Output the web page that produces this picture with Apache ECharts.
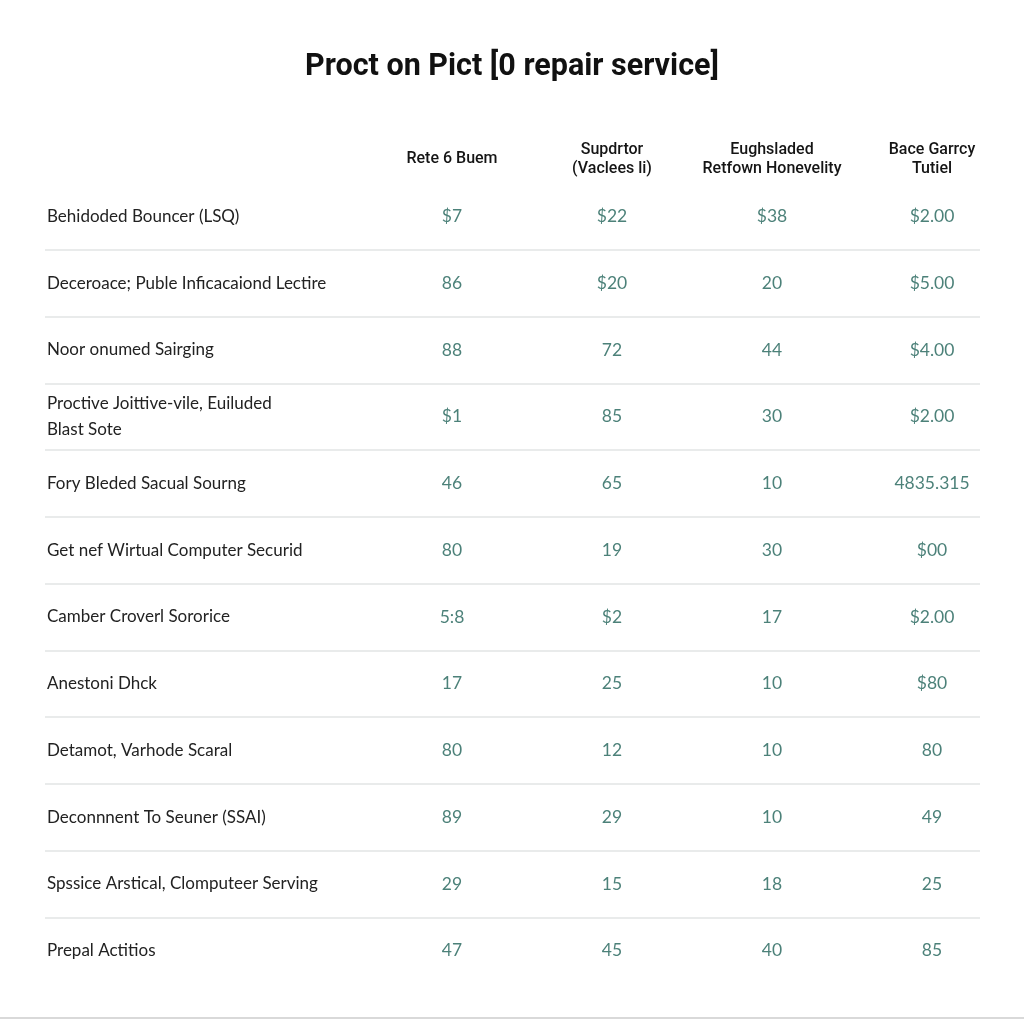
<!DOCTYPE html>
<html>
<head>
<meta charset="utf-8">
<script src="https://cdn.jsdelivr.net/npm/echarts@6/dist/echarts.min.js"></script>
<style>
html,body{margin:0;padding:0;background:#fff}
#c{width:1024px;height:1024px;background:#fff;box-shadow:inset 0 -5px 0 #fff, inset 0 -7px 0 #d9d9d9}
</style>
</head>
<body>
<div id="c"></div>
<script>
const titleText = "Proct on Pict [0 repair service]";
const rowNames = [
  "Behidoded Bouncer (LSQ)",
  "Deceroace; Puble Inficacaiond Lectire",
  "Noor onumed Sairging",
  "Proctive Joittive-vile, Euiluded\nBlast Sote",
  "Fory Bleded Sacual Sourng",
  "Get nef Wirtual Computer Securid",
  "Camber Croverl Sororice",
  "Anestoni Dhck",
  "Detamot, Varhode Scaral",
  "Deconnnent To Seuner (SSAI)",
  "Spssice Arstical, Clomputeer Serving",
  "Prepal Actitios"
];
const columnNames = [
  "Rete 6 Buem",
  "Supdrtor\n(Vaclees li)",
  "Eughsladed\nRetfown Honevelity",
  "Bace Garrcy\nTutiel"
];
const col1Values = ["$7","86","88","$1","46","80","5:8","17","80","89","29","47"];
const col2Values = ["$22","$20","72","85","65","19","$2","25","12","29","15","45"];
const col3Values = ["$38","20","44","30","10","30","17","10","10","10","18","40"];
const col4Values = ["$2.00","$5.00","$4.00","$2.00","4835.315","$00","$2.00","$80","80","49","25","85"];

const columnsData = [col1Values, col2Values, col3Values, col4Values];
const cellData = [];
columnsData.forEach((vals, j) => {
  vals.forEach((v, i) => cellData.push({ value: [j, i], text: v }));
});

const chart = echarts.init(document.getElementById('c'));
chart.setOption({
  backgroundColor: 'transparent',
  title: {
    text: titleText, left: 'center', top: 47,
    textStyle: { fontFamily: 'Roboto', fontWeight: 'bold', fontSize: 30.5, color: '#111' }
  },
  grid: [
    { left: 45, right: 44, top: 183, bottom: 40 },
    { left: 372, right: 12, top: 183, bottom: 40 }
  ],
  xAxis: [
    { type: 'value', gridIndex: 0, show: false, min: 0, max: 1 },
    {
      type: 'category', gridIndex: 1, data: columnNames, position: 'top',
      axisLine: { show: false }, axisTick: { show: false }, splitLine: { show: false },
      axisLabel: {
        interval: 0, margin: 24, verticalAlign: 'middle', lineHeight: 19,
        fontFamily: 'Roboto', fontWeight: 500, fontSize: 16, color: '#151515'
      }
    }
  ],
  yAxis: [
    {
      type: 'category', gridIndex: 0, data: rowNames, inverse: true,
      axisLine: { show: false }, axisTick: { show: false },
      axisLabel: {
        inside: true, align: 'left', margin: 2, interval: 0, lineHeight: 26,
        fontFamily: 'Lato', fontSize: 17, color: '#222222'
      },
      splitLine: { show: true, showMinLine: false, showMaxLine: false, lineStyle: { color: '#e2e4e4', width: 1.5 } }
    },
    {
      type: 'category', gridIndex: 1, data: rowNames, inverse: true, show: false
    }
  ],
  series: [{
    type: 'scatter', xAxisIndex: 1, yAxisIndex: 1, symbolSize: 2,
    itemStyle: { color: 'rgba(0,0,0,0)' },
    data: cellData,
    label: {
      show: true, position: 'inside',
      formatter: p => p.data.text,
      fontFamily: 'Lato', fontSize: 17.5, color: '#1f6157'
    },
    silent: true
  }]
});
</script>
</body>
</html>
